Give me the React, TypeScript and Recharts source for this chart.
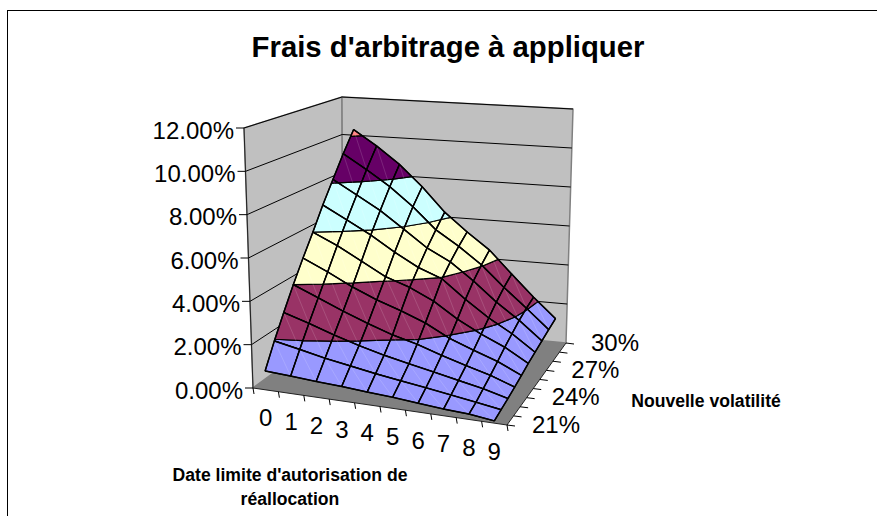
import React from "react"
import { Scatter, ScatterChart, XAxis, YAxis } from "recharts"

// chart values, percent, one list per volatility, dates 0..9 left to right
const dates = ["0", "1", "2", "3", "4", "5", "6", "7", "8", "9"]
const volLabels = ["21%", "", "", "24%", "", "", "27%", "", "", "30%"]
const valueLabels = ["0.00%", "2.00%", "4.00%", "6.00%", "8.00%", "10.00%", "12.00%"]

const vol21 = [0.87, 0.8, 0.72, 0.66, 0.57, 0.5, 0.4, 0.3, 0.24, 0.1]
const vol22 = [1.94, 1.7, 1.45, 1.25, 1.05, 0.88, 0.72, 0.55, 0.38, 0.2]
const vol23 = [2.97, 2.6, 2.2, 1.85, 1.55, 1.3, 1.07, 0.83, 0.6, 0.3]
const vol24 = [4.0, 3.5, 3.0, 2.55, 2.15, 1.85, 1.47, 1.13, 0.82, 0.42]
const vol25 = [5.0, 4.45, 3.85, 3.35, 2.95, 2.5, 1.9, 1.47, 1.07, 0.55]
const vol26 = [6.0, 5.45, 4.8, 4.15, 3.75, 3.2, 2.45, 1.85, 1.35, 0.7]
const vol27 = [7.1, 6.45, 5.8, 5.05, 4.4, 3.95, 3.05, 2.25, 1.6, 0.82]
const vol28 = [8.15, 7.45, 6.75, 5.9, 5.05, 4.45, 3.6, 2.65, 1.85, 0.95]
const vol29 = [9.25, 8.5, 7.7, 6.75, 5.65, 4.9, 4.05, 3.0, 2.05, 1.08]
const vol30 = [10.3, 9.5, 8.6, 7.5, 6.25, 5.3, 4.45, 3.3, 2.2, 1.2]
const surface = [vol21, vol22, vol23, vol24, vol25, vol26, vol27, vol28, vol29, vol30]

const bandEdges = [0, 2, 4, 6, 8, 10, 12]
const bandColors = ["#9999FF", "#993366", "#FFFFCC", "#CCFFFF", "#660066", "#FF8080"]

const WIDTH = 877
const HEIGHT = 516
const FONT = "'Liberation Sans', Arial, sans-serif"

// picture of the box: floor corners and how far the 12% level sits from each
const floorA = [253, 388] // low date, low vol
const floorB = [507, 425] // high date, low vol
const floorC = [566, 343] // high date, high vol
const floorD = [343, 322] // low date, high vol
const liftA = [-9, -260]
const liftB = [6, -271]
const liftC = [7, -234]
const liftD = [-1, -225]

const mix = (a: number[], b: number[], c: number[], d: number[], u: number, w: number, i: number) =>
  a[i] * (1 - u) * (1 - w) + b[i] * u * (1 - w) + c[i] * u * w + d[i] * (1 - u) * w

// u along dates, w along vols, both 0..1 across the box, z in percent
function box(u: number, w: number, z: number) {
  const h = z / 12
  return [
    mix(floorA, floorB, floorC, floorD, u, w, 0) + h * mix(liftA, liftB, liftC, liftD, u, w, 0),
    mix(floorA, floorB, floorC, floorD, u, w, 1) + h * mix(liftA, liftB, liftC, liftD, u, w, 1),
  ]
}
// dates sit between their ticks, vols sit on them
const gridPoint = (d: number, v: number, z: number) => box((d + 0.5) / 10, v / 9, z)

type Style = { fill?: string; stroke?: string; strokeWidth?: number; opacity?: number; closed?: boolean }
const shapeRow = (pts: number[][], style: Style) => ({ x: pts[0][0], y: pts[0][1], pts, ...style })

function PathShape(props: any) {
  const { cx, cy, payload } = props
  const d = payload.pts
    .map((p: number[], i: number) => `${i ? "L" : "M"}${(cx + p[0] - payload.x).toFixed(2)} ${(cy + p[1] - payload.y).toFixed(2)}`)
    .join("")
  return (
    <path
      d={d + (payload.closed ? "Z" : "")}
      fill={payload.fill ?? "none"}
      stroke={payload.stroke ?? "none"}
      strokeWidth={payload.strokeWidth ?? 1}
      strokeOpacity={payload.opacity ?? 1}
      strokeLinejoin="round"
    />
  )
}

function TextShape(props: any) {
  const { cx, cy, payload } = props
  return (
    <text
      x={cx}
      y={cy}
      dy="0.36em"
      textAnchor={payload.anchor ?? "middle"}
      fontFamily={FONT}
      fontSize={payload.size}
      fontWeight={payload.bold ? "bold" : "normal"}
      fill="#000"
    >
      {payload.label}
    </text>
  )
}

// cut a polygon of [d, v, z] down to one side of a z level
function clipZ(poly: number[][], level: number, keepAbove: boolean) {
  const out: number[][] = []
  poly.forEach((p, i) => {
    const q = poly[(i + 1) % poly.length]
    const pIn = keepAbove ? p[2] >= level : p[2] <= level
    const qIn = keepAbove ? q[2] >= level : q[2] <= level
    if (pIn) out.push(p)
    if (pIn !== qIn) {
      const t = (level - p[2]) / (q[2] - p[2])
      out.push([p[0] + (q[0] - p[0]) * t, p[1] + (q[1] - p[1]) * t, level])
    }
  })
  return out
}

const wallRows = [
  shapeRow([box(0, 0, 0), box(0, 1, 0), box(0, 1, 12), box(0, 0, 12)], { fill: "#C0C0C0", stroke: "#808080", strokeWidth: 1.5, closed: true }),
  shapeRow([box(0, 1, 0), box(1, 1, 0), box(1, 1, 12), box(0, 1, 12)], { fill: "#C0C0C0", stroke: "#808080", strokeWidth: 1.5, closed: true }),
  shapeRow([box(0, 0, 0), box(1, 0, 0), box(1, 1, 0), box(0, 1, 0)], { fill: "#808080", closed: true }),
]

const wallGridRows = bandEdges.slice(1).map((z) =>
  shapeRow([box(0, 0, z), box(0, 1, z), box(1, 1, z)], { stroke: "#000", strokeWidth: 1 }),
)

const axisRows = [
  shapeRow([box(0, 0, 12), box(0, 0, 0), box(1, 0, 0), box(1, 1, 0)], { stroke: "#222", strokeWidth: 1 }),
  ...bandEdges.map((z) => {
    const p = box(0, 0, z)
    return shapeRow([p, [p[0] - 8, p[1]]], { stroke: "#000", strokeWidth: 1 })
  }),
  ...Array.from({ length: 11 }, (_, i) => {
    const p = box(i / 10, 0, 0)
    return shapeRow([p, [p[0] + 1, p[1] + 6]], { stroke: "#000", strokeWidth: 1 })
  }),
  ...volLabels.map((_, i) => {
    const p = box(1, i / 9, 0)
    return shapeRow([p, [p[0] + 8, p[1] + 1]], { stroke: "#000", strokeWidth: 1 })
  }),
]

const cellRows: any[] = []
const diagonalRows: any[] = []
for (let v = surface.length - 2; v >= 0; v--) {
  for (let d = 0; d < dates.length - 1; d++) {
    const cell = [
      [d, v, surface[v][d]],
      [d + 1, v, surface[v][d + 1]],
      [d + 1, v + 1, surface[v + 1][d + 1]],
      [d, v + 1, surface[v + 1][d]],
    ]
    bandColors.forEach((color, b) => {
      const part = clipZ(clipZ(cell, bandEdges[b], true), bandEdges[b + 1], false)
      if (part.length > 2) {
        cellRows.push(shapeRow(part.map((p) => gridPoint(p[0], p[1], p[2])), { fill: color, stroke: "#000", strokeWidth: 1.2, closed: true }))
      }
    })
    diagonalRows.push(
      shapeRow(
        [gridPoint(d, v + 1, surface[v + 1][d]), gridPoint(d + 1, v, surface[v][d + 1])],
        { stroke: "#fff", strokeWidth: 0.8, opacity: 0.18 },
      ),
    )
  }
}

// mesh lines, along each date and along each vol
const meshSeries = [
  ...surface.map((row, v) => row.map((z, d) => gridPoint(d, v, z))),
  ...dates.map((_, d) => surface.map((row, v) => gridPoint(d, v, row[d]))),
].map((pts) => pts.map((p) => ({ x: p[0], y: p[1] })))

const frameRows = [
  shapeRow([[WIDTH, 10.5], [7.5, 10.5]], { stroke: "#000", strokeWidth: 1 }),
]

const textRows = [
  { x: 448, y: 46, label: "Frais d'arbitrage à appliquer", size: 29.3, bold: true },
  { x: 706, y: 401, label: "Nouvelle volatilité", size: 17.6, bold: true },
  { x: 290, y: 475, label: "Date limite d'autorisation de", size: 17.6, bold: true },
  { x: 290, y: 499, label: "réallocation", size: 17.6, bold: true },
  ...valueLabels.map((label, i) => {
    const p = box(0, 0, i * 2)
    return { x: p[0] - 10, y: p[1] + 2, label, size: 24, anchor: "end" }
  }),
  ...dates.map((label, i) => {
    const p = box((i + 0.5) / 10, 0, 0)
    return { x: p[0], y: p[1] + 28, label, size: 24 }
  }),
  ...volLabels.map((label, i) => {
    const p = box(1, i / 9, 0)
    return { x: p[0] + 25, y: p[1] - 1, label, size: 24, anchor: "start" }
  }).filter((row) => row.label),
]

export default function App() {
  return (
    <div style={{ position: "absolute", left: 0, top: 0, width: WIDTH, height: HEIGHT, background: "#fff" }}>
      <div style={{ position: "absolute", left: 7, top: 10, width: 1, height: HEIGHT - 10, background: "#000", zIndex: 1 }} />
      <ScatterChart width={WIDTH} height={HEIGHT} margin={{ top: 0, right: 0, bottom: 0, left: 0 }}>
        <XAxis type="number" dataKey="x" domain={[0, WIDTH]} hide />
        <YAxis type="number" dataKey="y" domain={[0, HEIGHT]} reversed hide />
        <Scatter data={frameRows} shape={PathShape} isAnimationActive={false} />
        <Scatter data={wallRows} shape={PathShape} isAnimationActive={false} />
        <Scatter data={wallGridRows} shape={PathShape} isAnimationActive={false} />
        <Scatter data={axisRows} shape={PathShape} isAnimationActive={false} />
        <Scatter data={cellRows} shape={PathShape} isAnimationActive={false} />
        <Scatter data={diagonalRows} shape={PathShape} isAnimationActive={false} />
        {meshSeries.map((pts, i) => (
          <Scatter
            key={i}
            data={pts}
            line={{ stroke: "#000", strokeWidth: 1.5 }}
            shape={() => <g />}
            isAnimationActive={false}
          />
        ))}
        <Scatter data={textRows} shape={TextShape} isAnimationActive={false} />
      </ScatterChart>
    </div>
  )
}
